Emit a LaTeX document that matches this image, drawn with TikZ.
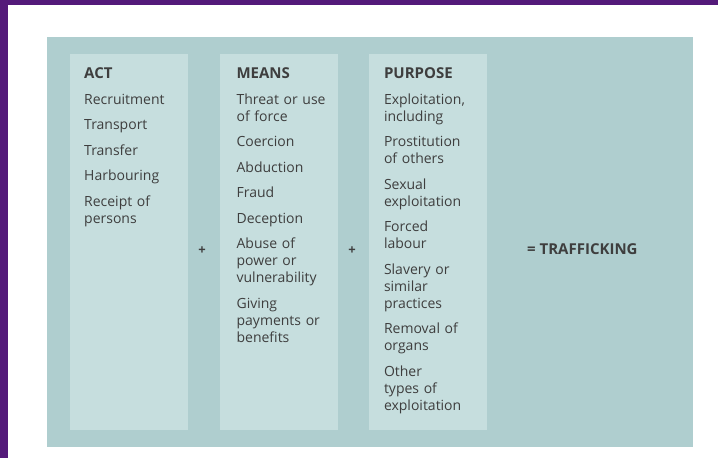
\documentclass[tikz,border=0pt]{standalone}
\usepackage{fontspec}
\setmainfont{Open Sans}
\usetikzlibrary{positioning}
\definecolor{framepurple}{RGB}{84,26,122}
\definecolor{panelteal}{RGB}{175,206,207}
\definecolor{colteal}{RGB}{198,222,222}
\definecolor{textgrey}{RGB}{62,62,62}
\newcommand{\colhead}[1]{{\bfseries\fontsize{15}{17}\selectfont #1}}

\begin{document}
\begin{tikzpicture}[x=1pt,y=-1pt,node distance=31pt,
    colbox/.style={fill=colteal,draw=none,minimum width=118pt,minimum height=376pt,inner sep=0pt,anchor=north west},
    coltext/.style={anchor=north west,inner sep=0pt,text width=100pt,align=left,text=textgrey,font=\fontsize{14}{17}\selectfont},
    sign/.style={text=textgrey,inner sep=0pt,font=\bfseries\fontsize{15}{17}\selectfont}]
    \useasboundingbox (0,0) rectangle (718,458);
    \fill[framepurple] (0,0) rectangle (718,458);
    \fill[white] (8,5) rectangle (718,458);
    \fill[panelteal] (47,37) rectangle (693,447);

    \node[colbox] (actbox) at (70,54) {};
    \node[colbox,right=31pt of actbox] (meansbox) {};
    \node[colbox,right=31pt of meansbox] (purposebox) {};

    \node[coltext] (act) at ([xshift=14pt,yshift=-13pt]actbox.north west)
        {\colhead{ACT}\\[9pt] Recruitment\\[8.5pt] Transport\\[8.5pt] Transfer\\[8.5pt]
         Harbouring\\[8.5pt] Receipt of\\ persons};
    \node[coltext] (means) at ([xshift=17pt,yshift=-13pt]meansbox.north west)
        {\colhead{MEANS}\\[9pt] Threat or use\\ of force\\[8.5pt] Coercion\\[8.5pt] Abduction\\[8.5pt]
         Fraud\\[8.5pt] Deception\\[8.5pt] Abuse of\\ power or\\ vulnerability\\[8.5pt]
         Giving\\ payments or\\ benefits};
    \node[coltext] (purpose) at ([xshift=15pt,yshift=-13pt]purposebox.north west)
        {\colhead{PURPOSE}\\[9pt] Exploitation,\\ including\\[8.5pt] Prostitution\\ of others\\[8.5pt]
         Sexual\\ exploitation\\[8.5pt] Forced\\ labour\\[8.5pt] Slavery or\\ similar\\ practices\\[8.5pt]
         Removal of\\ organs\\[8.5pt] Other\\ types of\\ exploitation};

    \node[sign,font=\bfseries\fontsize{13}{15}\selectfont] (plusa) at (202,251) {+};
    \node[sign,font=\bfseries\fontsize{13}{15}\selectfont] (plusb) at (352,251) {+};
    \node[sign,anchor=west] (result) at (527,249) {= TRAFFICKING};
\end{tikzpicture}
\end{document}
